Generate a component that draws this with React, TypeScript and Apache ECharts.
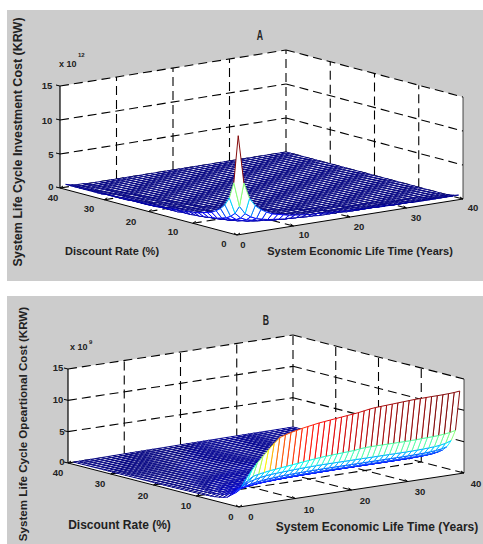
import React, { useEffect, useRef } from "react";
import * as echarts from "echarts";

const W = 483;
const H = 544;
const zTicks = [0, 5, 10, 15];
const rateTicks = [0, 10, 20, 30, 40];
const lifeTicks = [0, 10, 20, 30, 40];

// Panel A: cost in units of 0.1 x 10^12 KRW, one row per discount rate 1..40, one value per life year 1..
const investmentRows = [
  [143,72,48,36,29,24,20,18,16,14,13,12,11,10,10,9,8,8,8,7,7,6,6,6,6,5,5,5,5,5,5,4,4,4,4,4,4,4,4,4],
  [72,36,24,18,14,12,10,9,8,7,7,6,6,5,5,4,4,4,4,4,3,3,3,3,3,3,3,3,2,2,2,2,2,2,2,2,2,2,2,2],
  [48,24,16,12,10,8,7,6,5,5,4,4,4,3,3,3,3,3,3,2,2,2,2,2,2,2,2,2,2,2,2,1,1,1,1,1,1,1,1,1],
  [36,18,12,9,7,6,5,4,4,4,3,3,3,3,2,2,2,2,2,2,2,2,2,1,1,1,1,1,1,1,1,1,1,1,1],
  [29,14,10,7,6,5,4,4,3,3,3,2,2,2,2,2,2,2,2,1,1,1,1,1,1,1,1,1],
  [24,12,8,6,5,4,3,3,3,2,2,2,2,2,2,1,1,1,1,1,1,1,1],
  [20,10,7,5,4,3,3,3,2,2,2,2,2,1,1,1,1,1,1,1],
  [18,9,6,4,4,3,3,2,2,2,2,1,1,1,1,1,1],
  [16,8,5,4,3,3,2,2,2,2,1,1,1,1,1],
  [14,7,5,4,3,2,2,2,2,1,1,1,1,1],
  [13,6,4,3,3,2,2,2,1,1,1,1,1],
  [12,6,4,3,2,2,2,1,1,1,1],
  [11,5,4,3,2,2,2,1,1,1,1],
  [10,5,3,3,2,2,1,1,1,1],
  [10,5,3,2,2,2,1,1,1],
  [9,4,3,2,2,1,1,1],
  [8,4,3,2,2,1,1,1],
  [8,4,3,2,2,1,1],
  [8,4,3,2,2,1,1],
  [7,4,2,2,1,1,1],
  [7,3,2,2,1,1],
  [6,3,2,2,1,1],
  [6,3,2,2,1,1],
  [6,3,2,1,1,1],
  [6,3,2,1,1],
  [5,3,2,1,1],
  [5,3,2,1,1],
  [5,3,2,1,1],
  [5,2,2,1,1],
  [5,2,2,1,1],
  [5,2,2,1],
  [4,2,1,1],
  [4,2,1,1],
  [4,2,1,1],
  [4,2,1,1],
  [4,2,1,1],
  [4,2,1,1],
  [4,2,1,1],
  [4,2,1,1],
  [4,2,1,1],
];

// Panel B: cost in units of 0.01 x 10^9 KRW, one row per discount rate 1..40, one value per life year 1..40
const operationalRows = [
  [250,400,520,630,720,810,900,980,1010,1035,1055,1075,1090,1105,1120,1130,1140,1150,1160,1170,1180,1190,1205,1220,1230,1235,1240,1245,1250,1255,1260,1265,1265,1268,1270,1270,1272,1275,1280,1290],
  [180,260,340,400,420,435,450,460,470,480,490,500,510,520,530,540,545,550,555,560,565,570,580,590,590,590,590,590,590,590,590,590,592,595,598,600,605,612,625,645],
  [130,190,245,290,315,335,350,360,365,370,375,380,383,386,388,390,392,392,392,392,392,392,392,392,392,392,392,392,392,392,392,392,393,395,398,402,408,418,435,465],
  [74,130,172,201,225,243,255,266,272,278,284,287,289,291,293,294,295,296,296,296,296,296,296,296,296,296,296,296,296,296,296,296,297,298,300,303,308,316,328,350],
  [52,92,123,146,165,182,194,203,210,215,219,224,227,229,231,232,233,234,235,236,236,236,236,236,236,236,236,236,236,236,236,237,237,238,240,242,246,252,262,280],
  [38,69,93,113,129,143,152,162,168,174,178,182,186,188,190,192,193,194,195,196,197,198,198,198,198,198,198,198,198,198,198,198,199,199,200,202,205,210,218,232],
  [29,53,73,90,104,116,124,133,139,145,148,153,155,158,160,162,164,165,166,167,168,169,170,170,170,170,170,170,170,170,170,170,170,171,172,173,176,180,187,199],
  [22,42,58,73,85,94,103,110,116,121,125,128,132,134,137,139,140,142,143,144,145,146,147,147,148,148,148,149,149,149,149,149,149,149,150,151,152,154,158,170],
  [20,37,52,64,75,84,92,99,105,110,114,118,121,124,127,128,130,131,133,134,135,136,137,137,138,138,139,139,140,140,140,140,140,141,141,141,142,143,145,150],
  [16,31,43,54,64,72,79,85,91,95,99,103,106,109,111,113,115,117,118,119,120,121,122,123,123,124,124,125,125,125,126,126,126,126,127,127,127,128,130,134],
  [14,26,37,46,54,62,68,74,78,83,87,91,93,95,98,100,102,104,105,106,107,108,109,110,110,111,111,112,112,113,113,113,114,114,114,115,115,116,117,120],
  [12,22,32,40,48,54,60,65,70,74,77,81,84,86,88,90,92,93,95,96,97,99,100,100,101,102,102,103,103,104,104,104,105,105,105,106,106,106,107,110],
  [11,20,28,35,42,48,53,58,62,66,70,73,75,78,80,82,83,85,86,88,89,90,91,92,92,93,94,94,95,95,95,96,96,96,97,97,97,98,98,100],
  [9,18,25,31,37,43,47,52,56,59,63,65,68,71,73,75,77,78,80,81,82,83,84,85,86,87,87,88,88,89,89,89,90,90,90,90,91,91,91,92],
  [8,15,22,28,33,38,43,47,50,54,57,60,62,64,66,68,70,72,73,75,76,77,78,79,79,80,81,81,82,82,83,83,83,84,84,84,84,85,85,86],
  [7,14,19,25,30,34,38,42,45,48,51,53,56,58,60,62,63,65,66,68,69,70,71,72,73,73,74,74,75,75,76,76,76,77,77,77,78,78,78,79],
  [6,12,18,22,27,31,34,38,41,44,46,49,51,53,55,57,58,60,61,62,64,65,66,66,67,68,69,69,70,70,71,71,72,72,72,73,73,73,74,75],
  [6,11,16,20,24,28,32,35,38,41,43,45,47,49,51,53,54,56,57,59,60,61,62,63,64,64,65,66,66,67,67,68,68,69,69,69,70,70,70,71],
  [5,10,14,18,22,25,29,32,35,37,40,42,44,46,47,49,51,52,54,55,56,57,58,59,60,61,62,62,63,63,64,64,65,65,65,66,66,66,67,67],
  [5,9,13,17,20,23,27,29,32,34,37,39,41,43,44,46,48,49,50,52,53,54,55,56,57,57,58,59,60,60,61,61,62,62,62,63,63,63,64,64],
  [4,8,12,16,19,22,24,27,30,32,34,36,38,40,41,43,44,46,47,48,49,50,51,52,53,54,55,55,56,57,57,58,58,58,59,59,59,60,60,60],
  [4,8,11,14,17,20,23,25,27,30,32,34,35,37,39,40,42,43,44,46,47,48,49,50,50,51,52,53,53,54,54,55,55,56,56,56,57,57,57,58],
  [4,7,10,13,16,18,21,23,25,27,29,31,33,34,36,37,39,40,41,42,43,44,45,46,47,48,49,49,50,50,51,51,52,52,53,53,53,54,54,55],
  [3,7,10,12,15,17,19,22,24,26,27,29,31,32,34,35,37,38,39,40,41,42,43,44,45,45,46,47,47,48,49,49,50,50,50,51,51,52,52,53],
  [3,6,9,12,14,16,18,20,22,24,26,27,29,30,32,33,35,36,37,38,39,40,41,42,43,44,44,45,46,46,47,47,48,48,48,49,49,50,50,51],
  [3,6,8,11,13,15,17,19,21,22,24,26,27,29,30,31,33,34,35,36,37,38,39,40,41,42,42,43,44,44,45,45,46,46,47,47,47,48,48,49],
  [3,5,8,10,12,14,16,18,19,21,23,24,26,27,28,30,31,32,33,34,35,36,37,38,39,40,40,41,42,42,43,43,44,44,45,45,45,46,46,47],
  [2,5,7,9,11,13,15,17,18,20,21,23,24,25,27,28,29,30,31,32,33,34,35,36,37,38,38,39,40,40,41,41,42,42,43,43,44,44,44,45],
  [2,4,7,9,10,12,14,16,17,19,20,21,23,24,25,26,27,29,30,31,32,32,33,34,35,36,37,37,38,39,39,40,40,41,41,42,42,43,43,44],
  [2,4,6,8,10,11,13,15,16,17,19,20,21,22,24,25,26,27,28,29,30,31,31,32,33,34,34,35,36,36,37,37,38,39,39,40,40,41,41,42],
  [2,4,6,8,9,11,12,14,15,16,18,19,20,21,22,23,24,25,26,27,28,29,30,31,31,32,33,34,34,35,35,36,37,37,38,38,39,39,40,41],
  [2,4,5,7,9,10,11,13,14,15,17,18,19,20,21,22,23,24,25,26,27,28,29,29,30,31,32,32,33,34,34,35,35,36,36,37,38,38,39,40],
  [2,3,5,7,8,9,11,12,13,14,16,17,18,19,20,21,22,23,24,25,26,26,27,28,29,29,30,31,31,32,33,33,34,34,35,35,36,36,37,38],
  [2,3,5,6,8,9,10,11,13,14,15,16,17,18,19,20,21,22,23,24,24,25,26,27,28,28,29,30,30,31,32,32,33,33,34,34,35,35,36,37],
  [1,3,4,6,7,8,10,11,12,13,14,15,16,17,18,19,20,21,22,23,23,24,25,26,27,27,28,29,29,30,31,31,32,32,33,33,34,34,35,36],
  [1,3,4,5,7,8,9,10,11,12,13,14,15,16,17,18,19,20,21,22,22,23,24,25,26,26,27,28,28,29,30,30,31,31,32,32,33,33,34,35],
  [1,2,4,5,6,8,9,10,11,12,13,14,15,16,17,17,18,19,20,21,22,22,23,24,25,25,26,27,27,28,29,29,30,30,31,31,32,33,33,34],
  [1,2,4,5,6,7,8,9,10,11,12,13,14,15,16,17,18,18,19,20,21,22,22,23,24,24,25,26,26,27,28,28,29,29,30,30,31,32,32,33],
  [1,2,3,4,6,7,8,9,10,11,12,13,14,14,15,16,17,18,19,19,20,21,22,22,23,24,24,25,26,26,27,27,28,29,29,30,30,31,32,33],
  [1,2,3,4,5,6,7,8,9,10,11,12,13,14,15,15,16,17,18,19,20,20,21,22,23,23,24,25,25,26,26,27,28,28,29,29,30,30,31,32],
];

type Panel = {
  o: number[]; l: number[]; r: number[]; zh: number; rows: number[][]; unit: number; cmax: number;
};

const panelA: Panel = { o: [237, 235], l: [226, -36], r: [-177, -47], zh: 102, rows: investmentRows, unit: 10, cmax: 14.3 };
const panelB: Panel = { o: [239, 507], l: [225, -34], r: [-171, -44], zh: 94, rows: operationalRows, unit: 100, cmax: 12.9 };

const project = (p: Panel, life: number, rate: number, z: number) => [
  p.o[0] + (p.l[0] * life) / 40 + (p.r[0] * rate) / 40,
  p.o[1] + (p.l[1] * life) / 40 + (p.r[1] * rate) / 40 - (p.zh * z) / 15,
];

const cell = (p: Panel, li: number, ri: number) => (p.rows[ri][li] ?? 0) / p.unit;

// MATLAB jet colormap with 64 levels
const jet = (t: number) => {
  const v = Math.floor(Math.max(0, Math.min(0.999, t)) * 64) / 63;
  const ch = (x: number) => Math.round(255 * Math.max(0, Math.min(1, 1.5 - Math.abs(4 * v - x))));
  return `rgb(${ch(3)},${ch(2)},${ch(1)})`;
};

const LINE = 0.95;

const meshSeries = (p: Panel) => {
  const data: number[][] = [];
  for (let ri = 38; ri >= 0; ri--) for (let li = 38; li >= 0; li--) data.push([li, ri]);
  return {
    type: "custom", coordinateSystem: "cartesian2d", animation: false,
    progressive: 0, clip: false, silent: true, z: 3,
    data,
    encode: { x: 0, y: 1 },
    renderItem: (_: any, api: any) => {
      const li = api.value(0);
      const ri = api.value(1);
      const corner = (a: number, b: number) => api.coord(project(p, a + 1, b + 1, cell(p, a, b)));
      const a = corner(li, ri);
      const b = corner(li + 1, ri);
      const c = corner(li + 1, ri + 1);
      const d = corner(li, ri + 1);
      const col = (x: number, y: number) => jet(cell(p, x, y) / p.cmax);
      const cA = col(li, ri);
      const cB = col(li + 1, ri);
      const cD = col(li, ri + 1);
      if (cA === cB && cA === cD) {
        return { type: "polygon", shape: { points: [a, b, c, d] }, style: { fill: "#fff", stroke: cA, lineWidth: LINE } };
      }
      const seg = (u: number[], v: number[], color: string) => ({
        type: "line", shape: { x1: u[0], y1: u[1], x2: v[0], y2: v[1] }, style: { stroke: color, lineWidth: LINE },
      });
      return {
        type: "group",
        children: [
          { type: "polygon", shape: { points: [a, b, c, d] }, style: { fill: "#fff" } },
          seg(a, b, cA), seg(a, d, cA), seg(b, c, cB), seg(d, c, cD),
        ],
      };
    },
  };
};

const frameSeries = (p: Panel) => ({
  type: "custom", coordinateSystem: "cartesian2d", animation: false, clip: false, silent: true, z: 2,
  data: [[0, 0]],
  encode: { x: 0, y: 1 },
  renderItem: (_: any, api: any) => {
    const P = (l: number, r: number, z: number) => api.coord(project(p, l, r, z));
    const children: any[] = [];
    const top = zTicks[zTicks.length - 1];
    children.push({
      type: "polygon",
      shape: { points: [P(0, 40, 0), P(0, 40, top), P(40, 40, top), P(40, 0, top), P(40, 0, 0), P(0, 0, 0)] },
      style: { fill: "#fff" },
    });
    const dash = (u: number[], v: number[]) => children.push({
      type: "line", shape: { x1: u[0], y1: u[1], x2: v[0], y2: v[1] },
      style: { stroke: "#000", lineWidth: 1.1, lineDash: [9, 5] },
    });
    const solid = (u: number[], v: number[], w = 1) => children.push({
      type: "line", shape: { x1: u[0], y1: u[1], x2: v[0], y2: v[1] },
      style: { stroke: "#000", lineWidth: w },
    });
    zTicks.slice(1).forEach((z) => { dash(P(0, 40, z), P(40, 40, z)); dash(P(40, 40, z), P(40, 0, z)); });
    lifeTicks.slice(1).forEach((l) => { dash(P(l, 40, 0), P(l, 40, top)); dash(P(l, 0, 0), P(l, 40, 0)); });
    rateTicks.slice(1, -1).forEach((r) => { dash(P(40, r, 0), P(40, r, top)); dash(P(0, r, 0), P(40, r, 0)); });
    dash(P(0, 40, 0), P(40, 40, 0));
    solid(P(0, 40, 0), P(0, 40, top), 1.2);
    solid(P(40, 0, 0), P(40, 0, top), 0.7);
    solid(P(0, 0, 0), P(0, 40, 0));
    solid(P(0, 0, 0), P(40, 0, 0));
    zTicks.forEach((z) => { const q = P(0, 40, z); solid(q, [q[0] - 4, q[1] - 1]); });
    rateTicks.forEach((r) => { const q = P(0, r, 0); solid(q, [q[0] + 3, q[1] - 2]); });
    lifeTicks.forEach((l) => { const q = P(l, 0, 0); solid(q, [q[0] - 3, q[1] - 2]); });
    return { type: "group", children };
  },
});

const FONT = '"Liberation Sans", Arial, sans-serif';
const text = (t: string, x: number, y: number, size: number, align = "center", rotation = 0, scaleX = 1) => ({
  type: "text", x, y, rotation, scaleX, z: 10,
  style: { text: t, fontFamily: FONT, fontWeight: "bold", fontSize: size, fill: "#222", textAlign: align, textVerticalAlign: "middle" },
});
const tickTexts = (vals: number[], pos: number[][]) => vals.map((v, i) => text(String(v), pos[i][0], pos[i][1], 9.5));

const graphics = [
  { type: "rect", z: -1, shape: { x: 7, y: 10, width: 476, height: 271 }, style: { fill: "#cccccc" } },
  { type: "rect", z: -1, shape: { x: 7, y: 296, width: 476, height: 248 }, style: { fill: "#cccccc" } },
  text("A", 260, 35, 14, "center", 0, 0.62),
  text("B", 266, 320, 14, "center", 0, 0.62),
  text("x 10", 59, 64, 9, "left"),
  text("12", 78, 55, 6, "left"),
  text("x 10", 70, 347, 9, "left"),
  text("9", 89, 342, 6, "left"),
  ...tickTexts([15, 10, 5, 0], [[47, 85], [47, 120], [51, 154], [51, 186]]),
  ...tickTexts([40, 30, 20, 10, 0], [[53, 197], [89, 208], [131, 221], [173, 231], [224, 243]]),
  ...tickTexts([0, 10, 20, 30, 40], [[243, 244], [304, 234], [359, 226], [416, 217], [473, 207]]),
  ...tickTexts([15, 10, 5, 0], [[58, 367], [58, 399], [62, 431], [62, 461]]),
  ...tickTexts([40, 30, 20, 10, 0], [[58, 472], [100, 483], [143, 495], [186, 505], [231, 516]]),
  ...tickTexts([0, 10, 20, 30, 40], [[251, 516], [309, 509], [365, 500], [420, 491], [476, 483]]),
  text("Discount Rate (%)", 112, 251, 11, "center"),
  text("System Economic Life Time (Years)", 360, 251, 11, "center"),
  text("Discount Rate (%)", 119.5, 525, 12, "center"),
  text("System Economic Life Time (Years)", 377, 527, 12, "center"),
  text("System Life Cycle Investment Cost (KRW)", 18, 142, 12.5, "center", Math.PI / 2),
  text("System Life Cycle Opeartional Cost (KRW)", 22, 424, 11.6, "center", Math.PI / 2),
];

export default function App() {
  const ref = useRef<HTMLDivElement>(null);
  useEffect(() => {
    document.body.style.margin = "0";
    const chart = echarts.init(ref.current!, undefined, { renderer: "svg" });
    chart.setOption({
      animation: false,
      backgroundColor: "#ffffff",
      grid: { left: 0, top: 0, width: W, height: H, show: false },
      xAxis: { type: "value", min: 0, max: W, show: false },
      yAxis: { type: "value", min: 0, max: H, inverse: true, show: false },
      graphic: graphics,
      series: [frameSeries(panelA), meshSeries(panelA), frameSeries(panelB), meshSeries(panelB)],
    });
    return () => chart.dispose();
  }, []);
  return <div ref={ref} style={{ width: W, height: H }} />;
}
